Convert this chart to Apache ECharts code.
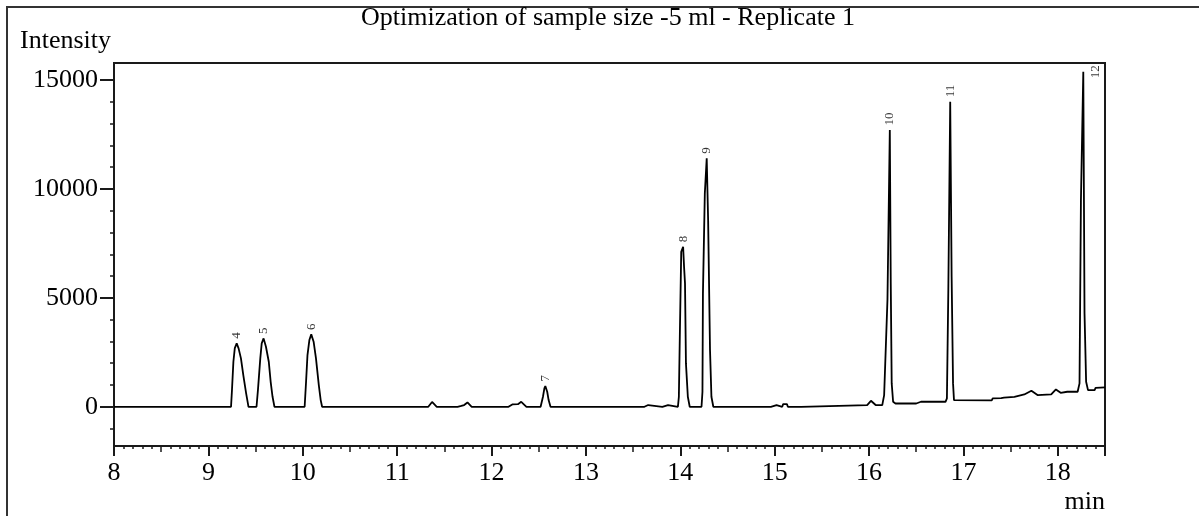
<!DOCTYPE html>
<html><head><meta charset="utf-8">
<script src="https://cdn.jsdelivr.net/npm/echarts@6/dist/echarts.min.js"></script>
<style>html,body{margin:0;padding:0;background:#fff}#c{width:1199px;height:516px}</style>
</head><body><div id="c"></div>
<script>
// retention time (min)
const times = [
  8.00, 9.24, 9.25, 9.265, 9.28, 9.30, 9.32, 9.345, 9.37, 9.40, 9.425,
  9.51, 9.525, 9.55, 9.565, 9.585, 9.61, 9.64, 9.66, 9.68, 9.70,
  10.02, 10.035, 10.05, 10.07, 10.09, 10.115, 10.14, 10.17, 10.19, 10.205,
  11.33, 11.37, 11.42, 11.64, 11.66, 11.68, 11.71, 11.745, 11.79,
  12.18, 12.22, 12.28, 12.315, 12.37,
  12.52, 12.545, 12.56, 12.57, 12.59, 12.605, 12.625,
  13.62, 13.63, 13.66, 13.67, 13.81, 13.82, 13.87, 13.88,
  13.975, 13.985, 13.995, 14.01, 14.03, 14.04, 14.05, 14.06, 14.08, 14.10,
  14.225, 14.235, 14.24, 14.26, 14.28, 14.295, 14.315, 14.33, 14.35,
  14.96, 14.97, 15.02, 15.03, 15.08, 15.09, 15.13, 15.14, 15.28, 15.29,
  15.98, 16.02, 16.07, 16.14, 16.16, 16.195, 16.22, 16.23, 16.24, 16.255, 16.28,
  16.50, 16.55, 16.62, 16.63, 16.81, 16.825, 16.84, 16.86, 16.875, 16.89, 16.90, 16.91,
  17.30, 17.31, 17.40, 17.415, 17.43, 17.54, 17.645, 17.72, 17.785, 17.93, 17.98, 18.03, 18.10, 18.21,
  18.23, 18.245, 18.27, 18.283, 18.30, 18.32, 18.39, 18.40, 18.50
];
// detector response (intensity)
const intensity = [
  0, 0, 767, 2066, 2695, 2911, 2680, 2222, 1455, 615, 0,
  0, 767, 2222, 2911, 3140, 2757, 2066, 1148, 459, 0,
  0, 1148, 2375, 3063, 3323, 2987, 2222, 995, 306, 0,
  0, 220, 0, 0, 70, 40, 80, 200, 0,
  0, 110, 120, 230, 0,
  0, 460, 845, 950, 690, 306, 0,
  0, 80, 80, 0, 0, 80, 80, 0,
  0, 459, 3214, 7116, 7346, 6427, 5665, 1992, 459, 0,
  0, 690, 5206, 9797, 11404, 8571, 2603, 459, 0,
  0, 80, 80, 0, 0, 120, 120, 0, 0, 50,
  80, 275, 80, 78, 537, 4899, 12703, 5665, 1074, 230, 150,
  150, 230, 230, 190, 230, 383, 5357, 14003, 5968, 1074, 306, 260,
  290, 383, 400, 459, 420, 459, 567, 736, 537, 567, 797, 643, 690, 690,
  1074, 9490, 15380, 4288, 1148, 767, 767, 872, 890
];
const peakLabels = ['4', '5', '6', '7', '8', '9', '10', '11', '12'];
const peakTimes = [9.30, 9.585, 10.09, 12.57, 14.03, 14.28, 16.22, 16.86, 18.27];
const peakHeights = [2911, 3140, 3323, 950, 7346, 11404, 12703, 14003, 15380];
const yMajorTicks = [0, 5000, 10000, 15000];
const yMinorTicks = [-1000, 1000, 2000, 3000, 4000, 6000, 7000, 8000, 9000, 11000, 12000, 13000, 14000];
const xHalfTicks = [8.5, 9.5, 10.5, 11.5, 12.5, 13.5, 14.5, 15.5, 16.5, 17.5, 18.5];
const titleText = 'Optimization of sample size -5 ml - Replicate 1';
const yName = 'Intensity';
const xName = 'min';

const X_MIN = 8, X_MAX = 18.5, Y_MIN = -1800, Y_MAX = 15780;
const FONT = 'Liberation Serif';
const ink = '#1a1a1a';
const gridL = 114, gridR = 94, gridT = 63, gridB = 70;
const gridW = 1199 - gridL - gridR, gridH = 516 - gridT - gridB;

const chart = echarts.init(document.getElementById('c'), null, {renderer: 'canvas'});
const lineData = times.map((t, i) => [t, intensity[i]]);
const labelData = peakTimes.map((t, i) => {
  const clipped = peakHeights[i] > 0.95 * Y_MAX;
  return {
    value: [t, peakHeights[i]],
    label: clipped
      ? {position: 'right', distance: 12, align: 'center', verticalAlign: 'middle'}
      : {position: 'top', distance: 4, align: 'left', verticalAlign: 'middle'}
  };
});
chart.setOption({
  animation: false,
  backgroundColor: '#fff',
  textStyle: {fontFamily: FONT, color: '#000'},
  grid: {left: gridL, right: gridR, top: gridT, bottom: gridB, show: true, borderColor: ink, borderWidth: 2, containLabel: false},
  xAxis: [{
    type: 'value', min: X_MIN, max: X_MAX, interval: 1, position: 'bottom',
    axisLine: {show: true, onZero: false, lineStyle: {color: ink, width: 2}},
    axisTick: {show: true, length: 10, lineStyle: {color: ink, width: 2}},
    minorTick: {show: true, splitNumber: 10, length: 3, lineStyle: {color: ink, width: 1.5}},
    axisLabel: {margin: 14, fontSize: 26, fontFamily: FONT, color: '#000', showMaxLabel: false},
    splitLine: {show: false}, minorSplitLine: {show: false}
  }, {
    type: 'value', min: X_MIN, max: X_MAX, position: 'top', offset: -gridH,
    axisLine: {show: false, onZero: false},
    axisTick: {show: true, inside: true, length: 6, customValues: xHalfTicks, lineStyle: {color: ink, width: 1.5}},
    axisLabel: {show: false}, splitLine: {show: false}
  }],
  yAxis: [{
    type: 'value', min: Y_MIN, max: Y_MAX, position: 'left',
    axisLine: {show: true, onZero: false, lineStyle: {color: ink, width: 2}},
    axisTick: {show: true, length: 14, customValues: yMajorTicks, lineStyle: {color: ink, width: 2}},
    axisLabel: {margin: 16, fontSize: 26, fontFamily: FONT, color: '#000', customValues: yMajorTicks,
      formatter: v => String(v)},
    splitLine: {show: false}
  }, {
    type: 'value', min: Y_MIN, max: Y_MAX, position: 'right', offset: -gridW,
    axisLine: {show: false, onZero: false},
    axisTick: {show: true, inside: true, length: 4, customValues: yMinorTicks, lineStyle: {color: ink, width: 1.5}},
    axisLabel: {show: false}, splitLine: {show: false}
  }],
  series: [{
    type: 'line', data: lineData, xAxisIndex: 0, yAxisIndex: 0,
    showSymbol: false, symbol: 'none', clip: true,
    lineStyle: {color: '#000', width: 1.8}
  }, {
    type: 'scatter', data: labelData, xAxisIndex: 0, yAxisIndex: 0,
    symbolSize: 1, itemStyle: {color: 'rgba(0,0,0,0)'},
    label: {
      show: true, rotate: 90, fontSize: 13, fontFamily: FONT, color: '#000',
      formatter: p => peakLabels[p.dataIndex]
    }
  }],
  graphic: [
    {type: 'rect', silent: true, shape: {x: 7, y: 7, width: 1260, height: 600}, style: {fill: 'none', stroke: '#333', lineWidth: 2}},
    {type: 'text', x: 608, y: 18.5, style: {text: titleText, font: '26px "' + FONT + '"', fill: '#000', align: 'center', verticalAlign: 'middle'}},
    {type: 'text', x: 20, y: 41.5, style: {text: yName, font: '26px "' + FONT + '"', fill: '#000', align: 'left', verticalAlign: 'middle'}},
    {type: 'text', x: 1105, y: 502, style: {text: xName, font: '26px "' + FONT + '"', fill: '#000', align: 'right', verticalAlign: 'middle'}}
  ]
});
</script>
</body></html>
